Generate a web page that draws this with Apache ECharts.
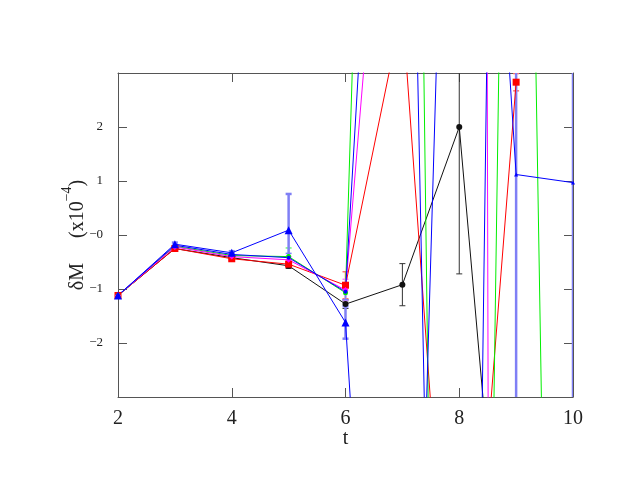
<!DOCTYPE html>
<html>
<head>
<meta charset="utf-8">
<script src="https://cdn.jsdelivr.net/npm/echarts@6/dist/echarts.min.js"></script>
<style>
  html, body { margin: 0; padding: 0; background: #fff; }
  #chart { width: 635px; height: 491px; }
</style>
</head>
<body>
<div id="chart"></div>
<script>
// time slices
const t = [2, 3, 4, 5, 6, 7, 8, 9, 10];

const blackVals   = [-1.12, -0.25, -0.42, -0.57, -1.28, -0.92, 2.0, -10.0];
const redVals     = [-1.12, -0.25, -0.44, -0.54, -0.93, 4.2, -10.5, 2.83];
const greenVals   = [-1.12, -0.21, -0.38, -0.40, -1.07, 33.4, -47, 25, -38];
const magentaVals = [-1.12, -0.22, -0.40, -0.46, -1.02, 11.7, 200, -200];
const blueBVals   = [-1.12, -0.19, -0.36, -0.42, -1.05, 17, -35, 44];
const blueAVals   = [-1.12, -0.17, -0.33, 0.09, -1.62, -18.4, 17.6, 1.12, 0.97];

// error bars (same index as values, null = none drawn)
const blackErr   = [null, 0.03, 0.03, 0.05, 0.08, 0.39, 2.72, null];
const redErr     = [null, null, 0.03, 0.05, 0.25, null, null, 0.16];
const greenErr   = [null, null, 0.03, 0.16, 0.15, null, null, null, null];
const magentaErr = [null, null, 0.03, 0.06, 0.2, null, null, null];
const blueBErr   = [null, null, 0.03, 0.08, 0.15, null, null, null];
const blueAErr   = [null, 0.03, 0.03, 0.67, 0.3, null, null, 40, 40];

// axis ticks
const xTicks = [2, 4, 6, 8, 10];
const yTicks = [-2, -1, 0, 1, 2];
const yTickLabels = ['\u22122', '\u22121', '\u22120', '1', '2'];

const serif = '"Liberation Serif", "DejaVu Serif", serif';

function pairs(vals) {
  return vals.map((v, i) => [t[i], v]);
}
function bars(vals, errs) {
  const out = [];
  vals.forEach((v, i) => {
    if (errs[i] != null) out.push([t[i], v - errs[i], v + errs[i]]);
  });
  return out;
}

function errSeries(vals, errs, color, width) {
  return {
    type: 'custom',
    clip: true,
    z: 1,
    data: bars(vals, errs),
    renderItem: function (params, api) {
      const x = api.value(0);
      const lo = api.coord([x, api.value(1)]);
      const hi = api.coord([x, api.value(2)]);
      const st = { stroke: color, lineWidth: width };
      return {
        type: 'group',
        children: [
          { type: 'line', shape: { x1: lo[0], y1: lo[1], x2: hi[0], y2: hi[1] }, style: st },
          { type: 'line', shape: { x1: lo[0] - 3, y1: lo[1], x2: lo[0] + 3, y2: lo[1] }, style: st },
          { type: 'line', shape: { x1: hi[0] - 3, y1: hi[1], x2: hi[0] + 3, y2: hi[1] }, style: st }
        ]
      };
    }
  };
}

function lineSeries(vals, color, symbol, size) {
  return {
    type: 'line',
    data: pairs(vals),
    clip: true,
    symbol: symbol,
    symbolSize: size,
    showAllSymbol: true,
    z: 3,
    lineStyle: { color: color, width: 1 },
    itemStyle: { color: color },
    emphasis: { disabled: true }
  };
}

const chart = echarts.init(document.getElementById('chart'), null, { renderer: 'canvas' });

const frameLine = { show: true, onZero: false, lineStyle: { color: '#555', width: 1 } };
const tickIn = { show: true, inside: true, length: 9, lineStyle: { color: '#555', width: 1 } };

chart.setOption({
  animation: false,
  backgroundColor: '#fff',
  grid: { left: 118, right: 62, top: 73, bottom: 94 },
  xAxis: [{
    type: 'value', min: 2, max: 10, interval: 2,
    name: 't', nameLocation: 'middle', nameGap: 32, nameMoveOverlap: false,
    nameTextStyle: { fontFamily: serif, fontSize: 20, color: '#222' },
    axisLine: frameLine, axisTick: tickIn,
    axisLabel: { fontFamily: serif, fontSize: 20, color: '#222', margin: 12,
      formatter: v => xTicks.indexOf(v) >= 0 ? String(v) : '' },
    splitLine: { show: false }
  }, {
    type: 'value', min: 2, max: 10, interval: 2, position: 'top',
    axisLine: frameLine, axisTick: tickIn, axisLabel: { show: false }, splitLine: { show: false }
  }],
  yAxis: [{
    type: 'value', min: -3, max: 3, interval: 1,
    name: '{a|\u03b4M     (x10}{s|\u22124}{a|)}', nameLocation: 'middle', nameRotate: 90,
    nameGap: 30, nameMoveOverlap: false,
    nameTextStyle: {
      color: '#222',
      rich: {
        a: { fontFamily: serif, fontSize: 20, color: '#222', lineHeight: 28, verticalAlign: 'bottom' },
        s: { fontFamily: serif, fontSize: 14, color: '#222', lineHeight: 28, verticalAlign: 'top' }
      }
    },
    axisLine: frameLine, axisTick: tickIn,
    axisLabel: { fontFamily: serif, fontSize: 13, color: '#222', margin: 15,
      formatter: v => { const k = yTicks.indexOf(v); return k >= 0 ? yTickLabels[k] : ''; } },
    splitLine: { show: false }
  }, {
    type: 'value', min: -3, max: 3, interval: 1, position: 'right',
    axisLine: frameLine, axisTick: tickIn, axisLabel: { show: false }, splitLine: { show: false }
  }],
  series: [
    errSeries(blackVals, blackErr, '#333', 1),
    errSeries(redVals, redErr, '#ff7070', 1.5),
    errSeries(greenVals, greenErr, '#70ff70', 1.5),
    errSeries(magentaVals, magentaErr, '#ff80ff', 1.5),
    errSeries(blueBVals, blueBErr, '#8080ff', 1.5),
    errSeries(blueAVals, blueAErr, '#7f7ff5', 2.5),
    lineSeries(blackVals, '#111', 'circle', 6),
    lineSeries(redVals, '#ff0000', 'rect', 7),
    lineSeries(greenVals, '#00ee00', 'circle', 5),
    lineSeries(magentaVals, '#ff00ff', 'diamond', 6),
    lineSeries(blueBVals, '#0000ff', 'circle', 4),
    Object.assign(lineSeries(blueAVals, '#0000ff', 'triangle', 8), {
      symbolSize: (val, p) => p.dataIndex >= 7 ? 4 : 8
    })
  ]
});
</script>
</body>
</html>
